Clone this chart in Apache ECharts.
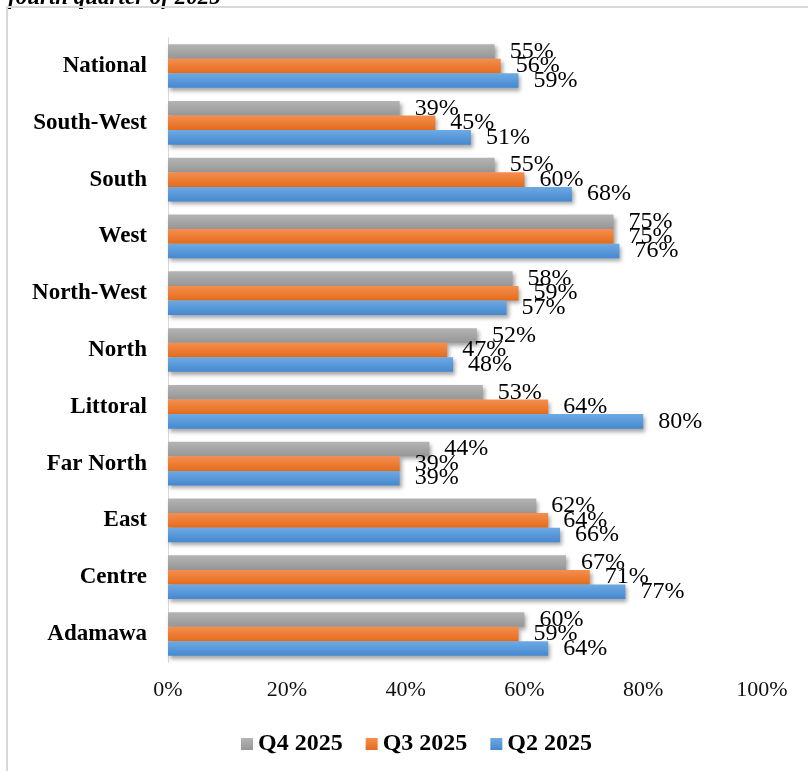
<!DOCTYPE html>
<html>
<head>
<meta charset="utf-8">
<script src="https://cdn.jsdelivr.net/npm/echarts@6/dist/echarts.min.js"></script>
<style>
  html, body { margin: 0; padding: 0; background: #fff; }
  #chart { width: 808px; height: 771px; }
</style>
</head>
<body>
<div id="chart"></div>
<script>
// regions, top to bottom as in the picture
const regions = ["National", "South-West", "South", "West", "North-West", "North",
  "Littoral", "Far North", "East", "Centre", "Adamawa"];
const q4 = [55, 39, 55, 75, 58, 52, 53, 44, 62, 67, 60];
const q3 = [56, 45, 60, 75, 59, 47, 64, 39, 64, 71, 59];
const q2 = [59, 51, 68, 76, 57, 48, 80, 39, 66, 77, 64];
const seriesNames = ["Q4 2025", "Q3 2025", "Q2 2025"];
const xTicks = [0, 20, 40, 60, 80, 100];

const serif = "'Liberation Serif', 'DejaVu Serif', serif";
const chart = echarts.init(document.getElementById("chart"));

function grad(top, bottom) {
  return new echarts.graphic.LinearGradient(0, 0, 0, 1, [
    { offset: 0, color: top },
    { offset: 1, color: bottom }
  ]);
}

function barSeries(name, data, c1, c2) {
  return {
    name: name,
    type: "bar",
    data: data,
    barGap: "0%",
    barCategoryGap: "23%",
    itemStyle: {
      color: grad(c1, c2),
      shadowColor: "rgba(0,0,0,0.35)",
      shadowBlur: 4,
      shadowOffsetX: 2,
      shadowOffsetY: 3
    },
    label: {
      show: true,
      position: "right",
      distance: 15,
      formatter: "{c}%",
      fontFamily: serif,
      fontSize: 24,
      color: "#000"
    }
  };
}

chart.setOption({
  animation: false,
  backgroundColor: "#fff",
  graphic: [
    {
      type: "text",
      left: 8,
      top: -13,
      style: {
        text: "fourth quarter of 2025",
        font: "italic bold 23px " + serif,
        fill: "#000"
      }
    },
    {
      type: "rect",
      shape: { x: 7, y: 7, width: 820, height: 800 },
      style: { fill: "none", stroke: "#d9d9d9", lineWidth: 2 }
    }
  ],
  legend: {
    data: seriesNames,
    left: 236,
    top: 727,
    icon: "rect",
    itemWidth: 12,
    itemHeight: 12,
    itemGap: 23,
    textStyle: { fontFamily: serif, fontWeight: "bold", fontSize: 24, color: "#000" }
  },
  grid: { left: 168, right: 46, top: 37.6, bottom: 108.6 },
  xAxis: {
    type: "value",
    min: xTicks[0],
    max: xTicks[xTicks.length - 1],
    interval: xTicks[1] - xTicks[0],
    splitLine: { show: false },
    axisLine: { show: false },
    axisTick: { show: false },
    axisLabel: {
      formatter: "{value}%",
      margin: 17,
      fontFamily: serif,
      fontSize: 22,
      color: "#111"
    }
  },
  yAxis: {
    type: "category",
    data: regions,
    inverse: true,
    axisLine: { show: true, lineStyle: { color: "#d9d9d9", width: 1 } },
    axisTick: { show: false },
    axisLabel: {
      margin: 21,
      fontFamily: serif,
      fontWeight: "bold",
      fontSize: 23,
      color: "#000"
    }
  },
  series: [
    barSeries(seriesNames[0], q4, "#b4b4b4", "#969696"),
    barSeries(seriesNames[1], q3, "#f58e4f", "#e46c1b"),
    barSeries(seriesNames[2], q2, "#6eaae3", "#4588d0")
  ]
});
</script>
</body>
</html>
